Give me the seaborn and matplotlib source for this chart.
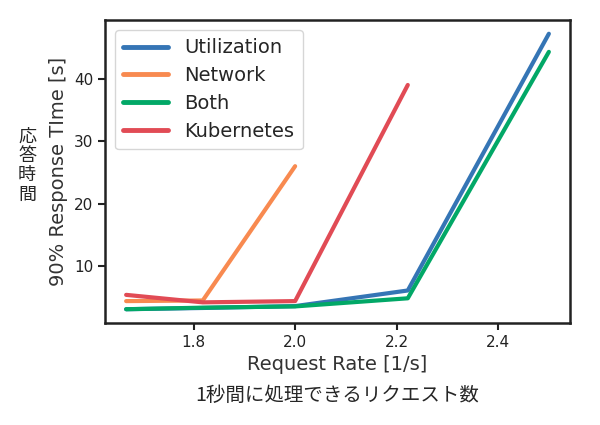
import matplotlib
matplotlib.use("Agg")
import matplotlib.pyplot as plt
import seaborn as sns
import pandas as pd

rates_util = [1.667, 1.818, 2.0, 2.222, 2.5]
util = [3.1, 3.3, 3.6, 6.1, 47.2]
rates_net = [1.667, 1.818, 2.0]
net = [4.4, 4.5, 26.0]
rates_both = [1.667, 1.818, 2.0, 2.222, 2.5]
both = [3.1, 3.35, 3.55, 4.85, 44.3]
rates_k8s = [1.667, 1.818, 2.0, 2.222]
k8s = [5.4, 4.2, 4.4, 39.0]

series = ["Utilization", "Network", "Both", "Kubernetes"]
colors = ["#3575b5", "#f88a50", "#02a867", "#e14b55"]

frames = []
for name, xs, ys in zip(series, [rates_util, rates_net, rates_both, rates_k8s],
                        [util, net, both, k8s]):
    frames.append(pd.DataFrame({"rate": xs, "time": ys, "method": name}))
df = pd.concat(frames, ignore_index=True)

sns.set_theme(style="ticks")
plt.rcParams['font.family'] = ['DejaVu Sans', 'Noto Sans CJK JP']

fig = plt.figure(figsize=(6, 4.25), dpi=100)
ax = fig.add_axes([0.175, 0.24, 0.775, 0.713])
sns.lineplot(data=df, x="rate", y="time", hue="method", hue_order=series,
             palette=colors, linewidth=3, ax=ax, sort=False)
for s in ax.spines.values():
    s.set_linewidth(1.8)
    s.set_color("#222222")
ax.set_xticks([1.8, 2.0, 2.2, 2.4])
ax.set_yticks([10, 20, 30, 40])
ax.tick_params(labelsize=11, width=1.5, length=5, colors="#222222")
ax.set_xlabel("Request Rate [1/s]", fontsize=14, color="#333333")
ax.set_ylabel("90% Response TIme [s]", fontsize=14, color="#333333")
leg = ax.legend(loc="upper left", fontsize=14, frameon=True, handlelength=2.3,
                borderpad=0.45, labelspacing=0.45)
for h in leg.get_lines():
    h.set_linewidth(3.5)

fig.text(0.045, 0.61, "応\n答\n時\n間", fontsize=13, ha="center", va="center",
         family=['Noto Sans CJK JP'], linespacing=1.1)
fig.text(0.5625, 0.07, "1秒間に処理できるリクエスト数", fontsize=14, ha="center",
         va="center", family=['Noto Sans CJK JP'])

fig.savefig("out.png", dpi=100)
